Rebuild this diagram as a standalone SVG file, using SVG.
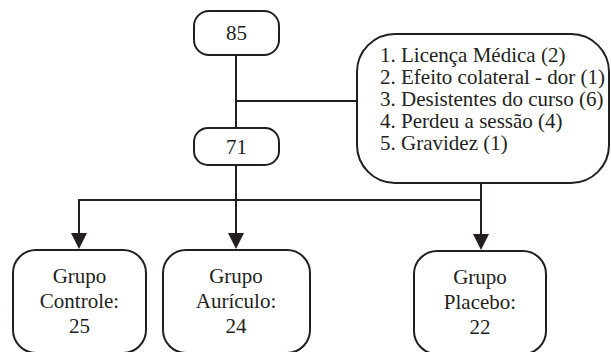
<svg xmlns="http://www.w3.org/2000/svg" width="611" height="352" viewBox="0 0 611 352">
<defs>
<style>
.box{fill:#fff;stroke:#231f20;stroke-width:2}
.ln{fill:none;stroke:#231f20;stroke-width:2}
.ah{fill:#231f20;stroke:none}
text{font-family:"Liberation Serif","Times New Roman",serif;font-size:21px;fill:#231f20}
.c{text-anchor:middle}
</style>
</defs>
<rect width="611" height="352" fill="#fff"/>
<g id="connectors">
<path class="ln" d="M236 55V200M236 101H357M79 235V200H481M481 183V235M236 200V235"/>
<path class="ah" d="M71 233H87L79 249Z"/>
<path class="ah" d="M228 233H244L236 249Z"/>
<path class="ah" d="M473 234H489L481 250Z"/>
</g>
<g id="n85">
<rect class="box" x="194" y="11" width="85" height="44" rx="15"/>
<text class="c" x="236.5" y="40">85</text>
</g>
<g id="n71">
<rect class="box" x="194" y="128" width="85" height="37" rx="14"/>
<text class="c" x="236.5" y="154">71</text>
</g>
<g id="reasons">
<rect class="box" x="357" y="34" width="252" height="149" rx="38"/>
<text x="380" y="62">1. Licença Médica (2)</text>
<text x="380" y="84">2. Efeito colateral - dor (1)</text>
<text x="380" y="106">3. Desistentes do curso (6)</text>
<text x="380" y="128">4. Perdeu a sessão (4)</text>
<text x="380" y="150">5. Gravidez (1)</text>
</g>
<g id="controle">
<rect class="box" x="13" y="250" width="133" height="103" rx="23"/>
<text class="c" x="79.5" y="283">Grupo</text>
<text class="c" x="79.5" y="308">Controle:</text>
<text class="c" x="79.5" y="333">25</text>
</g>
<g id="auriculo">
<rect class="box" x="163" y="250" width="147" height="103" rx="23"/>
<text class="c" x="236" y="283">Grupo</text>
<text class="c" x="236" y="308">Aurículo:</text>
<text class="c" x="236" y="333">24</text>
</g>
<g id="placebo">
<rect class="box" x="414" y="251" width="132" height="103" rx="23"/>
<text class="c" x="480" y="284">Grupo</text>
<text class="c" x="480" y="309">Placebo:</text>
<text class="c" x="480" y="334">22</text>
</g>
</svg>
